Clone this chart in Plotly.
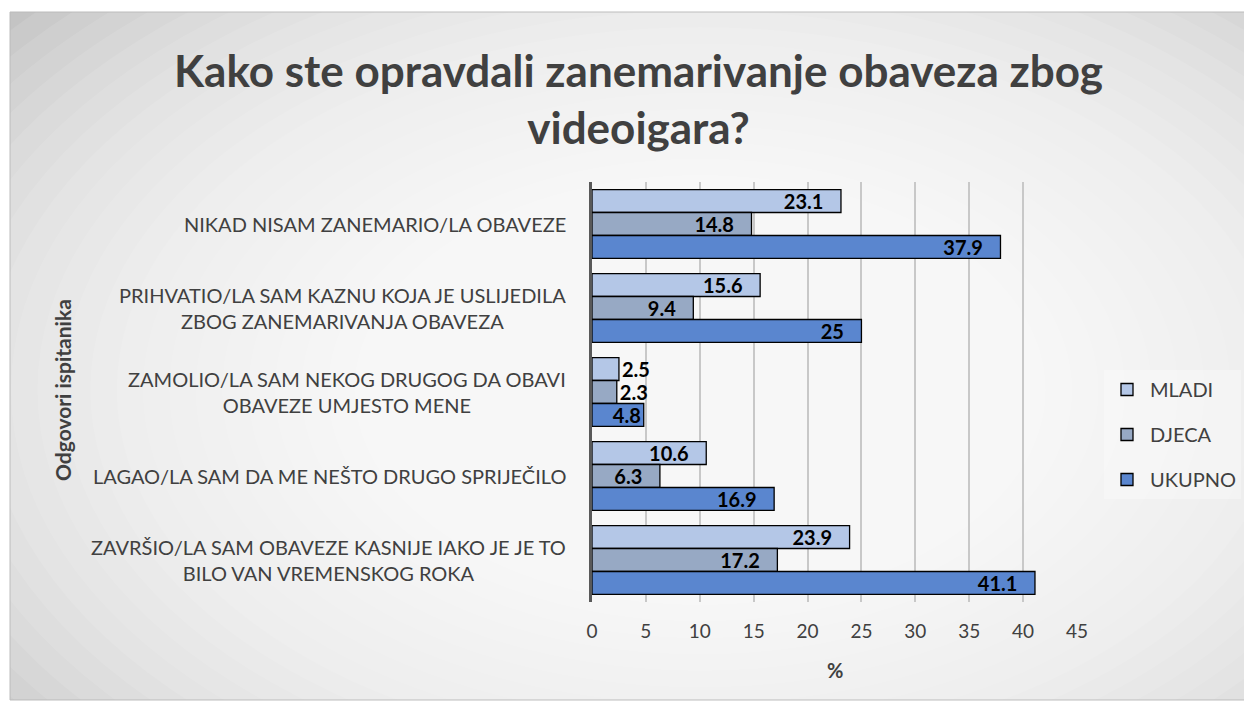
import plotly.graph_objects as go

categories = [
    "NIKAD NISAM ZANEMARIO/LA OBAVEZE",
    "PRIHVATIO/LA SAM KAZNU KOJA JE USLIJEDILA<br>ZBOG ZANEMARIVANJA OBAVEZA",
    "ZAMOLIO/LA SAM NEKOG DRUGOG DA OBAVI<br>OBAVEZE UMJESTO MENE",
    "LAGAO/LA SAM DA ME NEŠTO DRUGO SPRIJEČILO",
    "ZAVRŠIO/LA SAM OBAVEZE KASNIJE IAKO JE JE TO<br>BILO VAN VREMENSKOG ROKA",
]
series_names = ["MLADI", "DJECA", "UKUPNO"]
mladi = [23.1, 15.6, 2.5, 10.6, 23.9]
djeca = [14.8, 9.4, 2.3, 6.3, 17.2]
ukupno = [37.9, 25, 4.8, 16.9, 41.1]
series_values = [mladi, djeca, ukupno]
colors = ["#b4c7e7", "#97a9c4", "#5a86cf"]
x_ticks = [0, 5, 10, 15, 20, 25, 30, 35, 40, 45]

OFF = 8  # page body margin
W, H = 1252 - OFF, 709 - OFF
L, R, T, B = 592 - OFF, 1077 - OFF, 182 - OFF, 602 - OFF


def px_x(p):
    return (p - OFF - L) / (R - L)


def px_y(p):
    return 1 - (p - OFF - T) / (B - T)


FONT = "Lato"
TXT = "#404040"

fig = go.Figure()
for name, vals, col in zip(series_names, series_values, colors):
    pos = ["inside" if v >= 4 else "outside" for v in vals]
    tmpl = ["%{x}\u00a0\u00a0\u00a0" if v >= 5 else "%{x}" for v in vals]
    fig.add_trace(go.Bar(
        y=categories, x=vals, name=name, orientation="h",
        marker=dict(color=col, line=dict(color="black", width=1.3)),
        texttemplate=tmpl, textposition=pos, insidetextanchor="end",
        textangle=0, constraintext="none",
        textfont=dict(family=FONT, size=20, color="black", weight="bold"),
        legendgroup=name, cliponaxis=False,
    ))

shapes = []
shapes.append(dict(type="rect", xref="paper", yref="paper",
                   x0=px_x(10), x1=px_x(1250), y0=px_y(700), y1=px_y(12),
                   fillcolor="#c4c4c4", line=dict(color="#bdbdbd", width=1),
                   layer="below"))
cx, cy = 700, 390
N = 30
for i in range(N):
    s = 1.0 - i * (0.85 / (N - 1))
    rx, ry = 900 * s, 560 * s
    shapes.append(dict(type="circle", xref="paper", yref="paper",
                       x0=px_x(cx - rx), x1=px_x(cx + rx),
                       y0=px_y(cy + ry), y1=px_y(cy - ry),
                       fillcolor="white", opacity=0.1, line=dict(width=0),
                       layer="below"))
shapes += [
    dict(type="rect", xref="paper", yref="paper", x0=px_x(-50), x1=px_x(1252 + 50),
         y0=px_y(12), y1=px_y(-50), fillcolor="white", line=dict(width=0), layer="below"),
    dict(type="rect", xref="paper", yref="paper", x0=px_x(-50), x1=px_x(1252 + 50),
         y0=px_y(709 + 50), y1=px_y(700), fillcolor="white", line=dict(width=0), layer="below"),
    dict(type="rect", xref="paper", yref="paper", x0=px_x(-50), x1=px_x(10),
         y0=px_y(709 + 50), y1=px_y(-50), fillcolor="white", line=dict(width=0), layer="below"),
    dict(type="rect", xref="paper", yref="paper", x0=px_x(1250), x1=px_x(1252 + 50),
         y0=px_y(709 + 50), y1=px_y(-50), fillcolor="white", line=dict(width=0), layer="below"),
]
shapes.append(dict(type="rect", xref="paper", yref="paper",
                   x0=px_x(10), x1=px_x(1250), y0=px_y(700), y1=px_y(12),
                   fillcolor="rgba(0,0,0,0)", line=dict(color="#bdbdbd", width=1),
                   layer="below"))

annotations = []
for c in categories:
    annotations.append(dict(x=0, y=c, xref="x", yref="y", text=c, showarrow=False,
                            xanchor="right", yanchor="middle", xshift=-24, align="center",
                            font=dict(family=FONT, size=20, color=TXT)))
annotations.append(dict(x=px_x(638), y=px_y(98), xref="paper", yref="paper",
                        text="<b>Kako ste opravdali zanemarivanje obaveza zbog<br>videoigara?</b>",
                        showarrow=False, xanchor="center", yanchor="middle", align="center",
                        font=dict(family=FONT, size=44, color=TXT)))
annotations.append(dict(x=px_x(62), y=px_y(390), xref="paper", yref="paper",
                        text="<b>Odgovori ispitanika</b>", textangle=-90, showarrow=False,
                        xanchor="center", yanchor="middle",
                        font=dict(family=FONT, size=21, color=TXT)))
annotations.append(dict(x=px_x(835), y=px_y(670), xref="paper", yref="paper",
                        text="<b>%</b>", showarrow=False, xanchor="center", yanchor="middle",
                        font=dict(family=FONT, size=20, color=TXT)))

fig.update_layout(
    width=W, height=H,
    margin=dict(l=L, r=W - R, t=T, b=H - B, autoexpand=False),
    paper_bgcolor="white", plot_bgcolor="rgba(0,0,0,0)",
    barmode="group", bargap=0.18, bargroupgap=0,
    showlegend=True,
    legend=dict(x=px_x(1104), y=px_y(370), xanchor="left", yanchor="top",
                traceorder="grouped", tracegroupgap=16, itemwidth=36,
                bgcolor="rgba(255,255,255,0.3)",
                font=dict(family=FONT, size=20, color=TXT)),
    shapes=shapes, annotations=annotations,
    xaxis=dict(range=[0, 45], tickvals=x_ticks, showgrid=True, gridcolor="#c8c8c8",
               gridwidth=1.5, zeroline=False, showline=False,
               tickfont=dict(family=FONT, size=19, color=TXT), ticklabelstandoff=16),
    yaxis=dict(autorange="reversed", showticklabels=False, showline=True,
               linecolor="#595959", linewidth=3, showgrid=False, zeroline=False),
    font=dict(family=FONT),
)

fig.write_html("out.html")
